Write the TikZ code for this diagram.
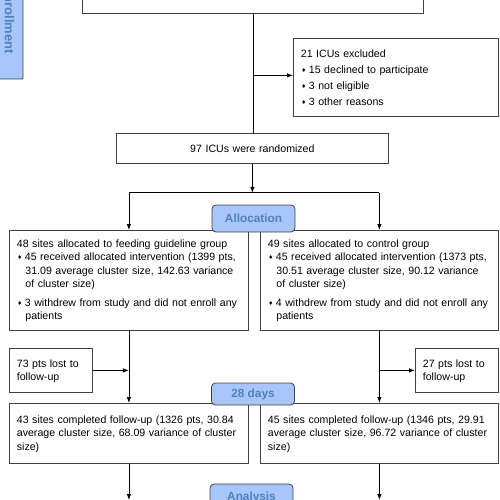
\documentclass[tikz,border=0pt]{standalone}
\usepackage{fontspec}
\setmainfont{Liberation Sans}
\newfontfamily\symbolfont{DejaVu Sans}
\usepackage{xcolor}
\usepackage{tikz}
\usetikzlibrary{arrows.meta}
\usetikzlibrary{shapes,positioning}
\definecolor{boxgray}{HTML}{404040}
\definecolor{labelblue}{HTML}{A8C6FA}
\definecolor{labeltext}{HTML}{4F81BD}
\newcommand{\boxfont}{\fontsize{10.6}{13.3}\selectfont}
\newcommand{\labelfont}{\fontsize{11.8}{14}\selectfont\bfseries}
\newcommand{\diamondbullet}{\makebox[8pt][l]{\hspace*{0.5pt}\raisebox{0.8pt}{\symbolfont\fontsize{5.5}{5.5}\selectfont ♦}}}
\tikzset{consort-box/.style={draw=boxgray, line width=0.8pt, anchor=north west, align=left, inner xsep=7.5pt, inner ysep=0pt, font=\boxfont}}
\tikzset{phase-label/.style={draw=boxgray, line width=0.8pt, fill=labelblue, rounded corners=4pt, text=labeltext, font=\labelfont, minimum width=83pt, inner sep=0pt}}
\tikzset{flow-line/.style={line width=0.8pt}}
\tikzset{>={Latex[length=6pt, width=4.5pt]}}

\begin{document}
\begin{tikzpicture}[x=1pt, y=-1pt]
            \useasboundingbox (0, 0) rectangle (500, 500);
            \clip (0, 0) rectangle (500, 500);
            \coordinate (bottom-edge) at (0, 500);

            % enrollment
            \node [consort-box, anchor=south west, minimum width=341pt, minimum height=50pt] (assessed) at (82, 14) {};
            \node [consort-box, text width=190pt, text height=19pt, text depth=59pt] (excluded) at (293, 38)
                {21 ICUs excluded\\[2.7pt]
                 \diamondbullet 15 declined to participate\\[2.7pt]
                 \diamondbullet 3 not eligible\\[2.7pt]
                 \diamondbullet 3 other reasons};
            \node [consort-box, text width=257pt, align=center, text height=19pt, text depth=11pt] (randomized) at (116, 133)
                {97 ICUs were randomized};

            % allocation
            \node [consort-box, text width=224pt, text height=17pt, text depth=83pt] (alloc-guide) at (9, 230)
                {48 sites allocated to feeding guideline group\\
                 \diamondbullet 45 received allocated intervention (1399 pts,\\
                 \hspace*{8.5pt}31.09 average cluster size, 142.63 variance\\
                 \hspace*{8.5pt}of cluster size)\\[5.5pt]
                 \diamondbullet 3 withdrew from study and did not enroll any\\
                 \hspace*{8.5pt}patients};
            \node [consort-box, text width=223pt, text height=17pt, text depth=83pt] (alloc-control) at (260, 230)
                {49 sites allocated to control group\\
                 \diamondbullet 45 received allocated intervention (1373 pts,\\
                 \hspace*{8.5pt}30.51 average cluster size, 90.12 variance\\
                 \hspace*{8.5pt}of cluster size)\\[5.5pt]
                 \diamondbullet 4 withdrew from study and did not enroll any\\
                 \hspace*{8.5pt}patients};

            % follow-up
            \node [consort-box, text width=68pt, text height=19pt, text depth=25pt] (lost-guide) at (9, 348)
                {73 pts lost to\\follow-up};
            \node [consort-box, text width=68pt, text height=19pt, text depth=25pt] (lost-control) at (415, 348)
                {27 pts lost to\\follow-up};
            \node [consort-box, text width=224pt, text height=20pt, text depth=40pt] (completed-guide) at (9, 403)
                {43 sites completed follow-up (1326 pts, 30.84\\
                 average cluster size, 68.09 variance of cluster\\
                 size)};
            \node [consort-box, text width=223pt, text height=20pt, text depth=40pt] (completed-control) at (260, 403)
                {45 sites completed follow-up (1346 pts, 29.91\\
                 average cluster size, 96.72 variance of cluster\\
                 size)};

            \draw [flow-line] (assessed.south) -- (assessed.south |- randomized.north);
            \coordinate [above=2pt of excluded.west] (excluded-in);
            \draw [flow-line, ->] (assessed.south |- excluded-in) -- (excluded-in);
            \coordinate [below=29pt of randomized.south] (split);
            \draw [flow-line, ->] (randomized.south) -- (split);
            \draw [flow-line] (split -| alloc-guide.north) -- (split -| alloc-control.north);
            \draw [flow-line, ->] (split -| alloc-guide.north) -- (alloc-guide.north);
            \draw [flow-line, ->] (split -| alloc-control.north) -- (alloc-control.north);
            \draw [flow-line, ->] (alloc-guide.south) -- (completed-guide.north);
            \draw [flow-line, ->] (alloc-control.south) -- (completed-control.north);
            \draw [flow-line, ->] (lost-guide.east) -- (lost-guide.east -| alloc-guide.south);
            \draw [flow-line, ->] (lost-control.west -| alloc-control.south) -- (lost-control.west);
            \draw [flow-line, ->] (completed-guide.south) -- (completed-guide.south |- bottom-edge);
            \draw [flow-line, ->] (completed-control.south) -- (completed-control.south |- bottom-edge);

            % phase labels
            \node [phase-label, rotate=-90, minimum width=118pt, minimum height=27pt, rounded corners=1pt, font=\fontsize{13}{15}\selectfont\bfseries] (label-enroll) at (9.5, 20) {Enrollment};
            \node [phase-label, minimum height=27pt] (label-alloc) at (253.5, 218.5) {Allocation};
            \node [phase-label, minimum height=22pt] (label-days) at (253, 394) {28 days};
            \node [phase-label, minimum height=27pt] (label-analysis) at (251.5, 497.5) {Analysis};
        \end{tikzpicture}
\end{document}
